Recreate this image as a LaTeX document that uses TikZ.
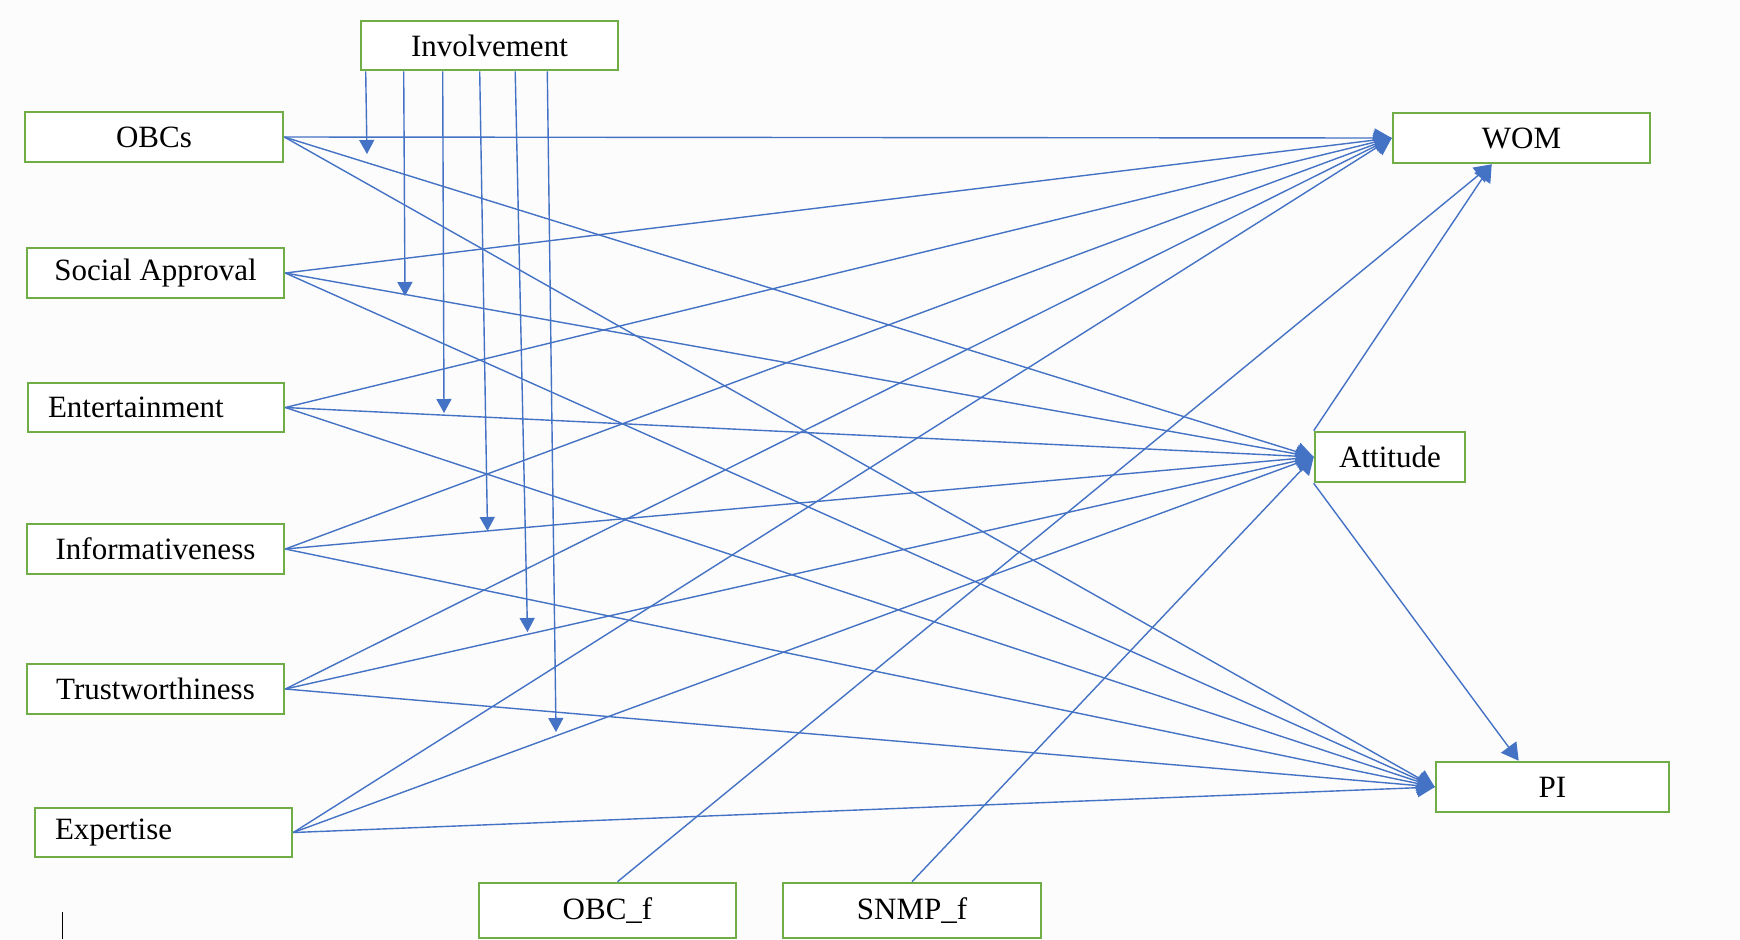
\documentclass[tikz,border=0pt]{standalone}
\usepackage{fontspec}
\setmainfont{Liberation Serif}
\usetikzlibrary{arrows.meta,calc}
\definecolor{linkblue}{HTML}{4472C4}
\definecolor{boxgreen}{HTML}{70AD47}
\definecolor{paper}{RGB}{252,252,252}
\begin{document}
\begin{tikzpicture}[x=0.5pt,y=-0.5pt,
  box/.style={draw=boxgreen, line width=1.3pt, fill=white, inner sep=0pt,
              minimum height=25pt, font=\fontsize{15.5pt}{18pt}\selectfont},
  leftbox/.style={box, align=left, inner xsep=10pt},
  path/.style={draw=linkblue, line width=0.7pt, -{Triangle[length=8.5pt,width=9.5pt]}},
  moder/.style={draw=linkblue, line width=0.7pt, -{Triangle[length=7pt,width=7.5pt]}}]

% page
\fill[paper] (0,0) rectangle (1740,939);
\useasboundingbox (0,0) rectangle (1740,939);

% constructs
\node[box, minimum width=128.5pt, minimum height=24.5pt] (inv) at (489.5,45.5) {Involvement};
\node[box, minimum width=129pt] (obcs) at (154,137) {OBCs};
\node[box, minimum width=128.5pt] (sa) at (155.5,273) {Social Approval};
\node[leftbox, text width=108pt, minimum height=24.5pt] (ent) at (156,407.5) {Entertainment};
\node[box, minimum width=128.5pt] (inf) at (155.5,549) {Informativeness};
\node[box, minimum width=128.5pt] (tru) at (155.5,689) {Trustworthiness};
\node[leftbox, text width=108.5pt, minimum height=24.5pt] (exp) at (163.5,832.5) {Expertise};
\node[box, minimum width=128.5pt, minimum height=27.5pt] (obcf) at (607.5,910.5) {OBC\_f};
\node[box, minimum width=129pt, minimum height=27.5pt] (snmpf) at (912,910.5) {SNMP\_f};
\node[box, minimum width=128.5pt] (wom) at (1521.5,138) {WOM};
\node[box, minimum width=75pt] (att) at (1390,457) {Attitude};
\node[box, minimum width=116.5pt] (pi) at (1552.5,787) {PI};

% predictors -> WOM, Attitude, PI
\foreach \src in {obcs,sa,ent,inf,tru,exp}{
  \draw[path] (\src.east) -- (wom.west);
  \draw[path] (\src.east) -- (att.west);
  \draw[path] (\src.east) -- (pi.west);
}

% controls and mediator
\coordinate (womfoot) at ([xshift=50pt]wom.south west);
\draw[path] ([xshift=5pt]obcf.north) -- (womfoot);
\draw[path] (snmpf.north) -- (att.west);
\draw[path] (att.north west) -- (womfoot);
\draw[path] (att.south west) -- ([xshift=42pt]pi.north west);

% moderating arrows of Involvement
\coordinate (m1) at (367,154);
\coordinate (m2) at (405,296);
\coordinate (m3) at (444,413);
\coordinate (m4) at (487.5,531);
\coordinate (m5) at (527.5,632);
\coordinate (m6) at (556,732);
\draw[moder] ([xshift=3pt]inv.south west) -- (m1);
\draw[moder] ([xshift=22pt]inv.south west) -- (m2);
\draw[moder] ([xshift=41.5pt]inv.south west) -- (m3);
\draw[moder] ([xshift=60pt]inv.south west) -- (m4);
\draw[moder] ([xshift=77.75pt]inv.south west) -- (m5);
\draw[moder] ([xshift=93.8pt]inv.south west) -- (m6);

% stray text cursor
\draw[black, line width=0.5pt] (62,912) -- (62,939);
\end{tikzpicture}
\end{document}
